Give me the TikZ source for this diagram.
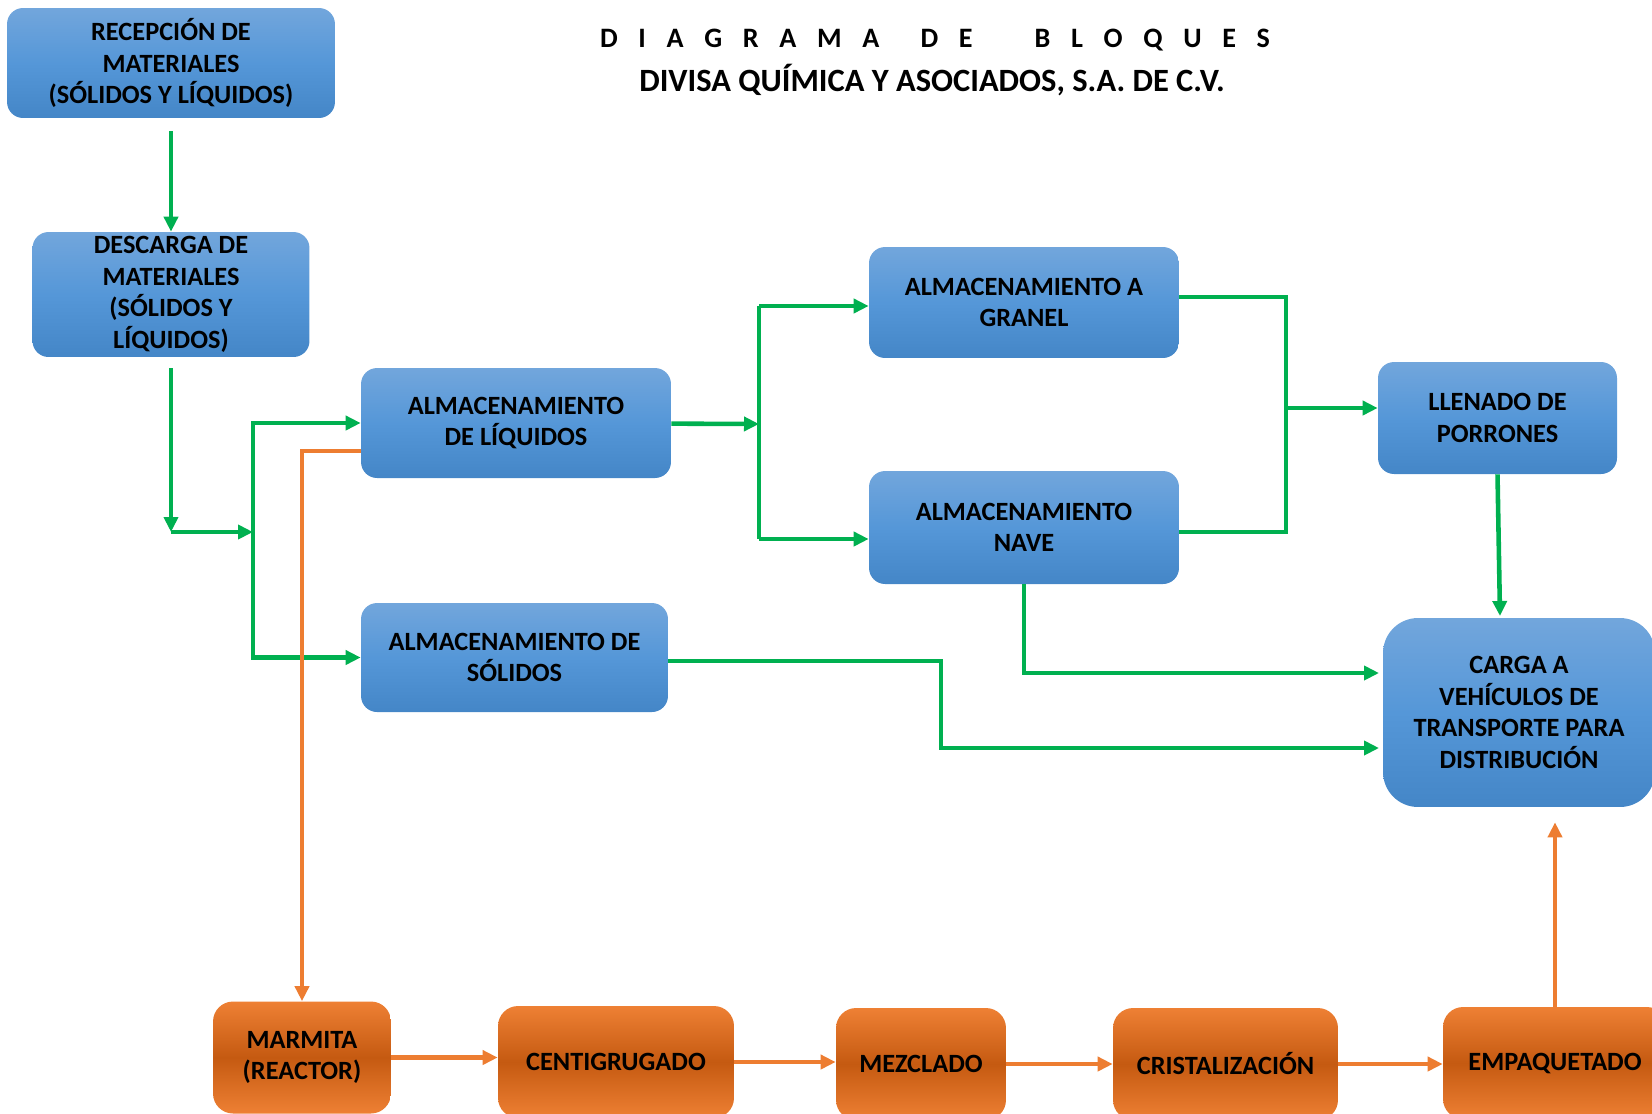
\documentclass[tikz,border=0pt]{standalone}
\usepackage{fontspec}
\setmainfont{Carlito}
\usetikzlibrary{arrows.meta,positioning}
\definecolor{azularriba}{RGB}{114,166,220}
\definecolor{azulmedio}{RGB}{85,151,216}
\definecolor{azulabajo}{RGB}{68,134,199}
\definecolor{naranjaclaro}{RGB}{238,128,52}
\definecolor{naranjaoscuro}{RGB}{197,90,17}
\definecolor{verde}{RGB}{0,176,80}
\definecolor{lineanaranja}{RGB}{237,125,49}
\tikzset{
    %Define standard arrow tip
    >={Triangle[length=0.3cm,width=0.28cm]},
    %Define style for boxes
    bloque/.style={
           rectangle,
           rounded corners=0.32cm,
           inner sep=2pt,
           align=center,
           font=\fontsize{15}{18}\selectfont\bfseries},
    bloqueazul/.style={
           bloque,
           top color=azularriba,
           bottom color=azulabajo,
           middle color=azulmedio},
    bloquenar/.style={
           bloque,
           rounded corners=0.4cm,
           top color=naranjaclaro,
           bottom color=naranjaclaro,
           middle color=naranjaoscuro},
    % Define arrow style
    linea/.style={
           draw=verde,
           line width=2.6pt},
    flecha/.style={
           linea,
           ->},
    flechanar/.style={
           ->,
           draw=lineanaranja,
           line width=2.6pt}
}
\begin{document}
\begin{tikzpicture}[x=0.02cm,y=-0.02cm]
\useasboundingbox (0,0) rectangle (1652,1113);
\clip (0,0) rectangle (1652,1113);
 %title
\node[font=\fontsize{16}{19}\selectfont\bfseries] (t1) at (935,40)
  {\makebox[13.4cm][s]{D\hfill I\hfill A\hfill G\hfill R\hfill A\hfill M\hfill A\hfill\hfill D\hfill E\hfill\hfill\hfill B\hfill L\hfill O\hfill Q\hfill U\hfill E\hfill S}};
\node[font=\fontsize{18.5}{22}\selectfont\bfseries] (t2) at (932,80) {DIVISA QUÍMICA Y ASOCIADOS, S.A. DE C.V.};
 %nodes
\node[bloqueazul, minimum width=6.56cm, minimum height=2.2cm] (1) at (171,63) {RECEPCIÓN DE\\MATERIALES\\(SÓLIDOS Y LÍQUIDOS)};
\node[bloqueazul, minimum width=5.54cm, minimum height=2.5cm] (2) at (171,294.5) {DESCARGA DE\\MATERIALES\\(SÓLIDOS Y\\LÍQUIDOS)};
\node[bloqueazul, minimum width=6.2cm, minimum height=2.2cm] (3) at (516,423) {ALMACENAMIENTO\\DE LÍQUIDOS};
\node[bloqueazul, minimum width=6.14cm, minimum height=2.18cm] (4) at (514.5,657.5) {ALMACENAMIENTO DE\\SÓLIDOS};
\node[bloqueazul, minimum width=6.2cm, minimum height=2.22cm] (5) at (1024,302.5) {ALMACENAMIENTO A\\GRANEL};
\node[bloqueazul, minimum width=6.2cm, minimum height=2.26cm] (6) at (1024,527.5) {ALMACENAMIENTO\\NAVE};
\node[bloqueazul, minimum width=4.78cm, minimum height=2.24cm] (7) at (1497.5,418) {LLENADO DE\\PORRONES};
\node[bloqueazul, rounded corners=0.7cm, minimum width=5.44cm, minimum height=3.78cm] (8) at (1519,712.5) {CARGA A\\VEHÍCULOS DE\\TRANSPORTE PARA\\DISTRIBUCIÓN};
\node[bloquenar, minimum width=3.56cm, minimum height=2.24cm] (9) at (302,1057.5) {MARMITA\\(REACTOR)};
\node[bloquenar, minimum width=4.72cm, minimum height=2.24cm] (10) at (616,1062) {CENTIGRUGADO};
\node[bloquenar, minimum width=3.4cm, minimum height=2.24cm] (11) at (921,1064) {MEZCLADO};
\node[bloquenar, minimum width=4.5cm, minimum height=2.24cm] (12) at (1225.5,1064) {CRISTALIZACIÓN};
\node[bloquenar, minimum width=4.48cm, minimum height=2.24cm] (13) at (1555,1063) {EMPAQUETADO};
 %junctions
\coordinate (c1) at (171,532);
\coordinate (b1) at (253,532);
\coordinate (b4) at (759,424);
\coordinate (b5) at (759,306);
\coordinate (b6) at (759,539);
\coordinate (b7) at (1286,297);
\coordinate (b8) at (1286,532);
\coordinate (b9) at (1286,408);
\coordinate (c8) at (1500,616);
\coordinate (c9) at (1379,673);
\coordinate (c10) at (941,661);
\coordinate (c11) at (1379,748);
\coordinate (c12) at (302,451);
 %edges
\draw[flecha, shorten <=0.26cm] (1) -- (2);
\draw[flecha, shorten <=0.22cm] (2.south) -- (c1);
\draw[flecha] (c1) -- (b1);
\draw[flecha] (b1) |- (3);
\draw[flecha] (b1) |- (4);
\draw[flecha] (3) -- (b4);
\draw[linea] (b5) -- (b6);
\draw[flecha] (b5) -- (5.west |- b5);
\draw[flecha] (b6) -- (6.west |- b6);
\draw[linea] (5.east |- b7) -- (b7) -- (b8) -- (6.east |- b8);
\draw[flecha] (b9) -- (7.west |- b9);
\draw[flecha] (7.south) -- (c8);
\draw[flecha] (6.south) |- (c9);
\draw[flecha] (4.east |- c10) -- (c10) |- (c11);
\draw[flechanar] (3.west |- c12) -- (c12) -- (9);
\draw[flechanar] (9) -- (9 -| 10.west);
\draw[flechanar] (10) -- (10 -| 11.west);
\draw[flechanar] (11) -- (11 -| 12.west);
\draw[flechanar] (12) -- (12 -| 13.west);
\draw[flechanar, shorten >=0.3cm] (13) -- (13 |- 8.south);
\end{tikzpicture}
\end{document}
